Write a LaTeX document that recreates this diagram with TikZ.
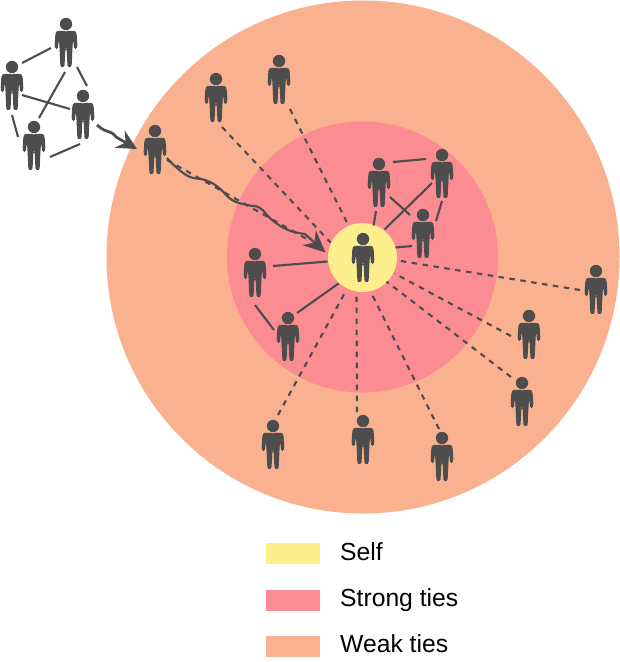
\documentclass[tikz,border=0pt]{standalone}
\usepackage{fontspec}
\setmainfont{Liberation Sans}
\usetikzlibrary{arrows.meta}
\definecolor{selfcol}{RGB}{255,238,140}
\definecolor{strongcol}{RGB}{250,140,146}
\definecolor{weakcol}{RGB}{249,177,143}
\definecolor{figcol}{RGB}{77,77,77}
\tikzset{
	zone/.style={circle, inner sep=0pt, outer sep=0pt},
	personbox/.style={minimum width=24pt, minimum height=50pt, inner sep=0pt},
	tie/.style={figcol, line width=2.1pt},
	weaktie/.style={tie, dash pattern=on 5.5pt off 5.5pt},
	wave/.style={figcol, line width=2.1pt, -{Stealth[length=22pt, width=20pt, inset=7pt]}},
	swatch/.style={minimum width=54pt, minimum height=21pt, inner sep=0pt},
	keytext/.style={anchor=base west, inner sep=0pt, font=\fontsize{24.7pt}{28pt}\selectfont},
	person/.pic={
		\fill[figcol] (0,-18) circle (6.2pt);
		\foreach \s in {1,-1} {
			\fill[figcol, xscale=\s, rounded corners=1.3pt] (-0.3,-11.2) -- (9.3,-11.2) -- (10.6,-8.5) -- (11.4,4) -- (10.4,7) -- (8.6,7) -- (7.7,4) -- (7.5,-1) -- (7,-1) -- (6.6,4) -- (5.6,24.6) -- (3.6,25.4) -- (1.5,24.6) -- (0.6,7) -- (-0.3,7) -- cycle;
		}
	}
}
\begin{document}
\begin{tikzpicture}[x=1pt, y=-1pt]
	\useasboundingbox (0,0) rectangle (620,662);
	\node[zone, fill=weakcol, minimum size=513pt] (weak) at (363,257) {};
	\node[zone, fill=strongcol, minimum size=271pt] (strong) at (362.5,257) {};
	\node[zone, fill=selfcol, minimum size=69pt] (self) at (362.5,257.5) {};
	\foreach \name/\x/\y in {netT/66/42, netL/12/85, netR/83/114, netB/34/145, pA/379/182, pB/442/173, pC/423/233, pD/255/272, pE/288/336, w1/216/97, w2/279/79, wEntry/155/149, w4/596/289, w5/529/334, w6/522/401, w7/442/456, w8/363/439, w9/273/444} {
		\node[personbox] (\name) at (\x,\y) {};
		\pic at (\name) {person};
	}
	\pic at (363,257) {person};
	\foreach \a/\ax/\ay/\b/\bx/\by in {netL/10/-22/netT/-15/6, netT/11/25/netR/4/-28, netT/-1/30/netB/5/-27, netL/10/10/netR/-13/-5, netL/0/30/netB/-16/-8, netB/16/12/netR/-3/30, pA/14/-20/pB/-16/-14, pA/11/15/pC/-13/-18, pB/-10/10/self/22/-28, pA/-3/29/self/11/-32, pB/0/28/pC/13/-12, pC/-11/13/self/33/-10, pD/18/-6/self/-35/4, pE/9/-23/self/-24/26, pD/0/33/pE/-14/-6} {
		\draw[tie] ([shift={(\ax,\ay)}]\a.center) -- ([shift={(\bx,\by)}]\b.center);
	}
	\foreach \a/\ax/\ay/\bx/\by in {w1/6/30/-32/-15, w2/11/30/-15/-34, wEntry/12/11/-53/-17, w4/-16/1/35/3, w5/-18/2/32/16, w6/-11/-24/24/24, w7/-3/-27/8/34, w8/-6/-27/-6/35, w9/5/-29/-18/36} {
		\draw[weaktie] ([shift={(\ax,\ay)}]\a.center) -- ([shift={(\bx,\by)}]self.center);
	}
	\coordinate (hopStart) at ([shift={(14,11)}]netR.center);
	\coordinate (hopTip) at ([shift={(-18,0)}]wEntry.center);
	\coordinate (pathStart) at ([shift={(12,9)}]wEntry.center);
	\coordinate (pathTip) at ([shift={(-37,-5)}]self.center);
	\draw[wave, line width=2.8pt, -{Stealth[length=20pt, width=20pt, inset=7pt]}] plot[smooth, tension=0.7] coordinates {(hopStart) (104,130) (112,133) (116,137)} -- (hopTip);
	\draw[wave] plot[smooth, tension=0.7] coordinates {(pathStart) (177,168) (190,177) (205,180) (218,187) (232,200) (247,205) (260,208) (272,220) (288,230) (305,234)} -- (pathTip);
	\node[swatch, fill=selfcol] (keySelf) at (293,553.5) {};
	\node[swatch, fill=strongcol] (keyStrong) at (293,600) {};
	\node[swatch, fill=weakcol] (keyWeak) at (293,646.5) {};
	\node[keytext] (txtSelf) at (340,560) {Self};
	\node[keytext] (txtStrong) at (340,606) {Strong ties};
	\node[keytext] (txtWeak) at (340,652) {Weak ties};
\end{tikzpicture}
\end{document}
